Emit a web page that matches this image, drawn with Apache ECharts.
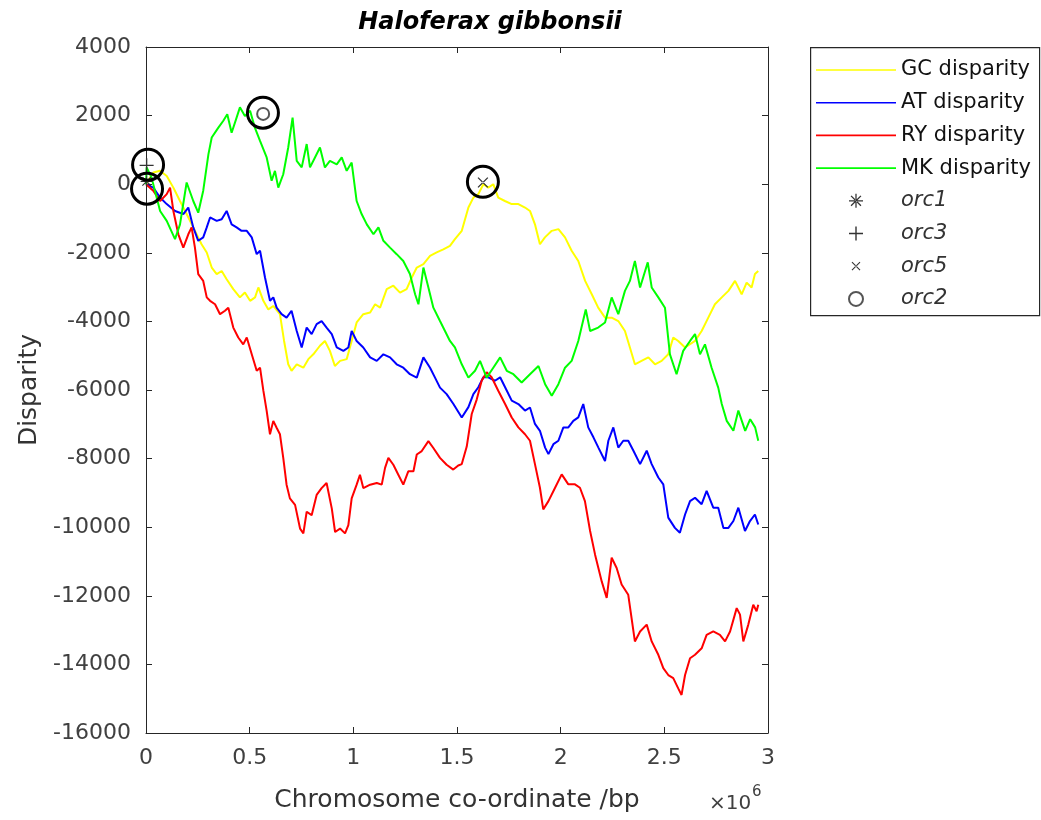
<!DOCTYPE html>
<html>
<head>
<meta charset="utf-8">
<script src="https://cdn.jsdelivr.net/npm/echarts@6/dist/echarts.min.js"></script>
<style>
html,body{margin:0;padding:0;background:#fff;}
#chart{width:1041px;height:820px;}
</style>
</head>
<body>
<div id="chart"></div>
<script>
// ---------- data (x in units of 10^6 bp, y = cumulative disparity) ----------
const xTicks = [0, 0.5, 1, 1.5, 2, 2.5, 3];
const yTicks = [4000, 2000, 0, -2000, -4000, -6000, -8000, -10000, -12000, -14000, -16000];
const seriesNames = ['GC disparity', 'AT disparity', 'RY disparity', 'MK disparity'];
const markerNames = ['orc1', 'orc3', 'orc5', 'orc2'];

const gcPoints = [[0,0],[0.035,340],[0.068,390],[0.100,240],[0.132,-100],[0.164,-490],[0.196,-870],[0.228,-1260],[0.268,-1750],[0.293,-1990],[0.317,-2430],[0.341,-2620],[0.365,-2530],[0.389,-2770],[0.421,-3060],[0.453,-3300],[0.477,-3160],[0.502,-3400],[0.526,-3300],[0.542,-3010],[0.566,-3400],[0.590,-3650],[0.614,-3550],[0.646,-3790],[0.666,-4570],[0.686,-5250],[0.702,-5440],[0.727,-5250],[0.759,-5350],[0.783,-5100],[0.807,-4960],[0.839,-4710],[0.863,-4570],[0.887,-4860],[0.911,-5300],[0.936,-5150],[0.968,-5100],[0.992,-4570],[1.016,-4030],[1.048,-3790],[1.081,-3740],[1.105,-3500],[1.129,-3600],[1.161,-3060],[1.193,-2960],[1.225,-3160],[1.257,-3060],[1.282,-2720],[1.306,-2430],[1.338,-2330],[1.370,-2090],[1.402,-1990],[1.434,-1900],[1.466,-1800],[1.490,-1600],[1.523,-1360],[1.555,-680],[1.579,-390],[1.603,-290],[1.627,0],[1.651,-100],[1.675,0],[1.699,-390],[1.731,-490],[1.764,-580],[1.796,-580],[1.828,-680],[1.852,-780],[1.876,-1170],[1.900,-1750],[1.924,-1550],[1.957,-1360],[1.989,-1310],[2.021,-1550],[2.053,-1940],[2.085,-2240],[2.118,-2820],[2.150,-3210],[2.181,-3600],[2.214,-3890],[2.246,-3890],[2.278,-3990],[2.310,-4280],[2.334,-4760],[2.358,-5250],[2.390,-5150],[2.423,-5050],[2.455,-5250],[2.487,-5150],[2.519,-4960],[2.543,-4470],[2.567,-4570],[2.600,-4760],[2.648,-4570],[2.680,-4280],[2.712,-3890],[2.744,-3500],[2.777,-3300],[2.809,-3110],[2.841,-2820],[2.873,-3210],[2.897,-2870],[2.921,-3010],[2.937,-2620],[2.953,-2530]];

const atPoints = [[0,0],[0.035,-100],[0.068,-390],[0.100,-580],[0.140,-780],[0.180,-870],[0.204,-680],[0.228,-1260],[0.252,-1650],[0.276,-1550],[0.293,-1260],[0.309,-970],[0.341,-1070],[0.365,-1020],[0.389,-780],[0.413,-1170],[0.437,-1260],[0.461,-1360],[0.486,-1360],[0.510,-1550],[0.534,-2040],[0.550,-1940],[0.574,-2720],[0.598,-3400],[0.614,-3300],[0.630,-3600],[0.654,-3790],[0.678,-3890],[0.702,-3690],[0.727,-4280],[0.751,-4760],[0.775,-4180],[0.799,-4370],[0.823,-4080],[0.847,-3990],[0.871,-4180],[0.896,-4370],[0.920,-4760],[0.952,-4860],[0.976,-4760],[0.992,-4280],[1.016,-4570],[1.048,-4760],[1.081,-5050],[1.113,-5150],[1.145,-4960],[1.177,-5050],[1.209,-5250],[1.241,-5350],[1.273,-5540],[1.306,-5640],[1.338,-5050],[1.370,-5350],[1.394,-5640],[1.418,-5930],[1.450,-6120],[1.482,-6400],[1.523,-6800],[1.555,-6500],[1.579,-6120],[1.603,-5920],[1.627,-5630],[1.651,-5630],[1.683,-5730],[1.708,-5630],[1.732,-5920],[1.764,-6310],[1.796,-6410],[1.828,-6600],[1.852,-6510],[1.876,-6990],[1.900,-7190],[1.925,-7680],[1.941,-7870],[1.965,-7580],[1.989,-7480],[2.013,-7090],[2.037,-7090],[2.061,-6900],[2.085,-6800],[2.109,-6410],[2.133,-7090],[2.158,-7380],[2.182,-7680],[2.214,-8070],[2.230,-7480],[2.254,-7090],[2.278,-7680],[2.302,-7480],[2.326,-7480],[2.351,-7770],[2.383,-8160],[2.415,-7770],[2.439,-8160],[2.471,-8550],[2.495,-8750],[2.519,-9720],[2.551,-10020],[2.575,-10160],[2.600,-9630],[2.624,-9240],[2.648,-9140],[2.680,-9330],[2.704,-8940],[2.736,-9430],[2.760,-9430],[2.785,-10020],[2.809,-10020],[2.833,-9820],[2.857,-9430],[2.889,-10110],[2.913,-9820],[2.937,-9630],[2.953,-9920]];

const ryPoints = [[0,0],[0.035,-190],[0.068,-490],[0.100,-290],[0.116,-100],[0.132,-780],[0.156,-1460],[0.180,-1850],[0.204,-1460],[0.220,-1260],[0.236,-1850],[0.252,-2620],[0.276,-2820],[0.293,-3300],[0.309,-3400],[0.333,-3500],[0.357,-3790],[0.381,-3690],[0.397,-3600],[0.421,-4180],[0.445,-4470],[0.469,-4670],[0.486,-4470],[0.510,-4960],[0.534,-5440],[0.550,-5350],[0.566,-6020],[0.582,-6610],[0.598,-7290],[0.614,-6900],[0.630,-7100],[0.646,-7290],[0.662,-7980],[0.678,-8760],[0.694,-9160],[0.719,-9350],[0.743,-10040],[0.759,-10180],[0.775,-9550],[0.799,-9650],[0.823,-9060],[0.847,-8860],[0.871,-8710],[0.896,-9450],[0.912,-10140],[0.936,-10040],[0.960,-10180],[0.976,-9940],[0.992,-9160],[1.016,-8760],[1.032,-8470],[1.048,-8860],[1.081,-8760],[1.113,-8710],[1.137,-8760],[1.153,-8270],[1.169,-7980],[1.193,-8180],[1.217,-8470],[1.241,-8760],[1.265,-8370],[1.290,-8370],[1.306,-7880],[1.330,-7780],[1.362,-7490],[1.386,-7690],[1.418,-7980],[1.450,-8180],[1.482,-8320],[1.506,-8200],[1.523,-8160],[1.547,-7650],[1.571,-6700],[1.595,-6280],[1.619,-5730],[1.643,-5480],[1.667,-5630],[1.699,-6020],[1.732,-6410],[1.764,-6800],[1.796,-7090],[1.828,-7290],[1.852,-7480],[1.876,-8160],[1.900,-8850],[1.916,-9480],[1.941,-9240],[1.973,-8850],[2.005,-8460],[2.037,-8750],[2.069,-8750],[2.093,-8850],[2.117,-9240],[2.142,-10110],[2.166,-10800],[2.198,-11580],[2.222,-12060],[2.246,-10890],[2.270,-11190],[2.294,-11670],[2.326,-11970],[2.358,-13330],[2.383,-13040],[2.415,-12840],[2.439,-13330],[2.471,-13720],[2.495,-14110],[2.519,-14310],[2.543,-14400],[2.567,-14700],[2.583,-14890],[2.600,-14310],[2.624,-13820],[2.648,-13720],[2.680,-13530],[2.704,-13140],[2.736,-13040],[2.768,-13140],[2.793,-13330],[2.817,-13040],[2.849,-12360],[2.865,-12550],[2.881,-13330],[2.905,-12840],[2.929,-12260],[2.945,-12450],[2.953,-12260]];

const mkPoints = [[0,0],[0.003,490],[0.027,190],[0.068,-780],[0.100,-1070],[0.140,-1600],[0.164,-1170],[0.196,50],[0.228,-490],[0.252,-830],[0.276,-190],[0.301,870],[0.317,1360],[0.349,1650],[0.373,1850],[0.392,2040],[0.413,1500],[0.437,1940],[0.453,2240],[0.477,1990],[0.502,2140],[0.525,1650],[0.550,1260],[0.582,780],[0.606,100],[0.622,390],[0.638,-100],[0.662,290],[0.686,1070],[0.707,1940],[0.727,680],[0.751,490],[0.775,1170],[0.791,490],[0.815,780],[0.839,1070],[0.863,490],[0.887,680],[0.920,580],[0.944,780],[0.968,390],[0.992,630],[1.016,-490],[1.040,-870],[1.065,-1170],[1.097,-1460],[1.121,-1260],[1.145,-1650],[1.177,-1850],[1.209,-2040],[1.241,-2240],[1.273,-2620],[1.298,-3210],[1.314,-3500],[1.338,-2430],[1.362,-3010],[1.386,-3600],[1.418,-3990],[1.442,-4280],[1.466,-4570],[1.490,-4760],[1.523,-5250],[1.555,-5640],[1.587,-5440],[1.611,-5150],[1.643,-5640],[1.675,-5350],[1.708,-5050],[1.740,-5440],[1.772,-5540],[1.812,-5780],[1.852,-5540],[1.893,-5300],[1.925,-5830],[1.957,-6170],[1.989,-5830],[2.021,-5350],[2.053,-5150],[2.085,-4570],[2.121,-3650],[2.142,-4280],[2.181,-4180],[2.214,-4030],[2.246,-3300],[2.278,-3790],[2.310,-3110],[2.334,-2820],[2.358,-2240],[2.383,-3010],[2.420,-2280],[2.439,-3010],[2.471,-3300],[2.503,-3600],[2.527,-4960],[2.559,-5540],[2.591,-4860],[2.624,-4570],[2.648,-4370],[2.672,-4960],[2.696,-4670],[2.728,-5350],[2.760,-5930],[2.777,-6410],[2.801,-6900],[2.833,-7190],[2.857,-6600],[2.890,-7190],[2.914,-6850],[2.938,-7090],[2.953,-7480]];

const orc1Point = [0.003, 80];
const orc3Point = [0.003, 550];
const orc5Point = [1.625, 50];
const orc2Point = [0.565, 2050];
const highlightPoints = [[0.010, 570], [0.005, -130], [0.564, 2085], [1.625, 70]];

// ---------- styles ----------
const lineColors = ['#ffff00', '#0000ff', '#ff0000', '#00ff00'];
const FONT = 'DejaVu Sans';
const AX = '#262626';
const TICKTXT = '#404040';

const plusPath = 'path://M-1,-10L1,-10L1,-1L10,-1L10,1L1,1L1,10L-1,10L-1,1L-10,1L-10,-1L-1,-1Z';
const crossPath = 'path://M-10,-10L-9.98,-10L-10,-9.98Z M10,10L9.98,10L10,9.98Z M-6.3,-5.2L5.2,6.3L6.3,5.2L-5.2,-6.3Z M5.2,-6.3L6.3,-5.2L-5.2,6.3L-6.3,5.2Z';
const starPath = 'path://M-0.9,-10L0.9,-10L0.9,-0.9L10,-0.9L10,0.9L0.9,0.9L0.9,10L-0.9,10L-0.9,0.9L-10,0.9L-10,-0.9L-0.9,-0.9Z M-7.7,-6.4L6.4,7.7L7.7,6.4L-6.4,-7.7Z M6.4,-7.7L7.7,-6.4L-6.4,7.7L-7.7,6.4Z';
const legendLineIcon = 'path://M0,0L80,0L80,1.6L0,1.6Z';

const chart = echarts.init(document.getElementById('chart'), null, {renderer: 'canvas'});

function xAxisDef(pos, showLabel) {
  return {
    type: 'value', position: pos, min: xTicks[0], max: xTicks[xTicks.length - 1], interval: 0.5,
    axisLine: {show: true, onZero: false, lineStyle: {color: AX, width: 1}},
    axisTick: {show: true, inside: true, length: 6, lineStyle: {color: AX}},
    splitLine: {show: false},
    axisLabel: {show: showLabel, color: TICKTXT, fontFamily: FONT, fontSize: 22, margin: 14,
      formatter: v => String(v)},
    name: showLabel ? 'Chromosome co-ordinate /bp' : '',
    nameLocation: 'middle', nameGap: 55,
    nameTextStyle: {color: '#333', fontFamily: FONT, fontSize: 25}
  };
}
function yAxisDef(pos, showLabel) {
  return {
    type: 'value', position: pos, min: yTicks[yTicks.length - 1], max: yTicks[0], interval: 2000,
    axisLine: {show: true, onZero: false, lineStyle: {color: AX, width: 1}},
    axisTick: {show: true, inside: true, length: 6, lineStyle: {color: AX}},
    splitLine: {show: false},
    axisLabel: {show: showLabel, color: TICKTXT, fontFamily: FONT, fontSize: 22, margin: 15,
      formatter: v => String(v)},
    name: showLabel ? 'Disparity' : '',
    nameLocation: 'middle', nameGap: 104, nameRotate: 90,
    nameTextStyle: {color: '#333', fontFamily: FONT, fontSize: 25}
  };
}

const pointSets = [gcPoints, atPoints, ryPoints, mkPoints];
const lineSeries = seriesNames.map((n, i) => ({
  name: n, type: 'line', data: pointSets[i], showSymbol: false, symbol: 'none',
  lineStyle: {color: lineColors[i], width: 2}, itemStyle: {color: lineColors[i]},
  z: 2 + i, silent: true
}));

const markerSeries = [
  {name: 'orc1', type: 'scatter', data: [orc1Point], symbol: starPath, symbolSize: 12,
    itemStyle: {color: '#333', opacity: 1}, z: 10},
  {name: 'orc3', type: 'scatter', data: [orc3Point], symbol: plusPath, symbolSize: 14,
    itemStyle: {color: '#333', opacity: 1}, z: 10},
  {name: 'orc5', type: 'scatter', data: [orc5Point], symbol: crossPath, symbolSize: 17,
    itemStyle: {color: '#333', opacity: 1}, z: 10},
  {name: 'orc2', type: 'scatter', data: [orc2Point], symbol: 'emptyCircle', symbolSize: 12,
    itemStyle: {color: '#555', borderWidth: 1.6, opacity: 1}, z: 10},
  {name: 'highlight', type: 'scatter', data: highlightPoints, symbol: 'circle', symbolSize: 31,
    itemStyle: {color: 'rgba(0,0,0,0)', borderColor: '#000', borderWidth: 3, opacity: 1}, z: 11, silent: true}
];

const legendData = seriesNames.map((n, i) => ({name: n, icon: legendLineIcon, itemStyle: {color: lineColors[i]}}))
  .concat(markerNames.map(n => ({name: n, textStyle: {fontStyle: 'italic', color: '#333'}})));

chart.setOption({
  animation: false,
  backgroundColor: '#fff',
  title: {
    text: 'Haloferax gibbonsii', left: 485, top: 6, textAlign: 'center',
    textStyle: {fontFamily: FONT, fontSize: 24, fontWeight: 'bold', fontStyle: 'italic', color: '#000'}
  },
  grid: {left: 146, right: 273, top: 47, bottom: 87, containLabel: false},
  xAxis: [xAxisDef('bottom', true), xAxisDef('top', false)],
  yAxis: [yAxisDef('left', true), yAxisDef('right', false)],
  legend: {
    orient: 'vertical', left: 816, top: 59.5, padding: 0,
    itemWidth: 80, itemHeight: 14, itemGap: 11.7, selectedMode: false,
    textStyle: {fontFamily: FONT, fontSize: 21, color: '#111'},
    data: legendData, z: 10
  },
  graphic: [
    {type: 'rect', left: 810, top: 47, z: 0, silent: true,
      shape: {width: 229, height: 268},
      style: {fill: '#fff', stroke: AX, lineWidth: 1.2}},
    {type: 'text', left: 709, top: 794, silent: true,
      style: {text: '\u00d710', font: '20px "DejaVu Sans"', fill: '#404040'}},
    {type: 'text', left: 752, top: 785, silent: true,
      style: {text: '6', font: '15px "DejaVu Sans"', fill: '#404040'}}
  ],
  series: lineSeries.concat(markerSeries)
});
</script>
</body>
</html>
